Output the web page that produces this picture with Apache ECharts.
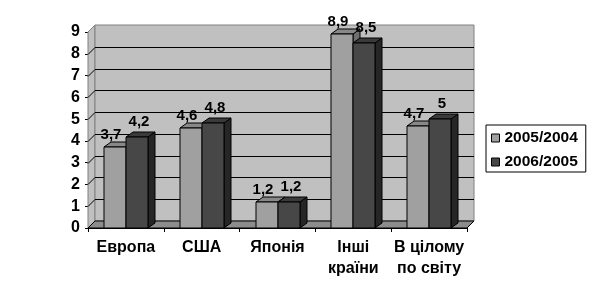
<!DOCTYPE html>
<html><head><meta charset="utf-8">
<script src="https://cdn.jsdelivr.net/npm/echarts@6/dist/echarts.min.js"></script>
<style>html,body{margin:0;padding:0;background:#fff}#c{width:593px;height:299px}</style>
</head><body><div id="c"></div>
<script>
const categories = ['Европа', 'США', 'Японія', 'Інші\nкраїни', 'В цілому\nпо світу'];
const seriesNames = ['2005/2004', '2006/2005'];
const values2005 = [3.7, 4.6, 1.2, 8.9, 4.7];
const values2006 = [4.2, 4.8, 1.2, 8.5, 5];
const yTicks = [0, 1, 2, 3, 4, 5, 6, 7, 8, 9];

const FONT = '"Liberation Sans", Arial, sans-serif';
const WALL_D = 7;
const BAR_DX = 7, BAR_DY = 5;
const styles = [
  { front: '#A0A0A0', top: '#888888', side: '#6E6E6E', lblDx: -4, lblDy: 5 },
  { front: '#474747', top: '#3A3A3A', side: '#262626', lblDx: 2, lblDy: 8 }
];
function fmt(v) { return String(v).replace('.', ','); }

function barRender(sIdx) {
  return function (params, api) {
    const idx = api.value(0), v = api.value(1);
    const base = api.coord([idx, 0]);
    const top = api.coord([idx, v]);
    const catW = api.size([1, 0])[0];
    const bw = Math.round(catW * 0.29);
    const cx = Math.round(base[0]);
    const x0 = sIdx === 0 ? cx - bw : cx;
    const x1 = x0 + bw;
    const yb = Math.round(base[1]), yt = Math.round(top[1]);
    const st = styles[sIdx];
    const sk = { stroke: '#000', lineWidth: 1 };
    return {
      type: 'group', children: [
        { type: 'polygon', shape: { points: [[x1, yb], [x1 + BAR_DX, yb - BAR_DY], [x1 + BAR_DX, yt - BAR_DY], [x1, yt]] }, style: Object.assign({ fill: st.side }, sk) },
        { type: 'polygon', shape: { points: [[x0, yt], [x0 + BAR_DX, yt - BAR_DY], [x1 + BAR_DX, yt - BAR_DY], [x1, yt]] }, style: Object.assign({ fill: st.top }, sk) },
        { type: 'rect', shape: { x: x0, y: yt, width: bw, height: yb - yt }, style: Object.assign({ fill: st.front }, sk) },
        { type: 'text', x: (x0 + x1) / 2 + st.lblDx, y: yt - st.lblDy, style: { text: fmt(v), font: 'bold 15px ' + FONT, fill: '#000', align: 'center', verticalAlign: 'bottom' } }
      ]
    };
  };
}

function wallRender(params, api) {
  const cs = params.coordSys;
  const L = cs.x, R = cs.x + cs.width, B = cs.y + cs.height, T = cs.y;
  const D = WALL_D;
  const ch = [];
  ch.push({ type: 'polygon', shape: { points: [[L, B], [L + D, B - D], [L + D, T - D], [L, T]] }, style: { fill: '#C0C0C0', stroke: '#808080', lineWidth: 1 } });
  ch.push({ type: 'rect', shape: { x: L + D, y: T - D, width: cs.width, height: cs.height }, style: { fill: '#C0C0C0', stroke: '#808080', lineWidth: 1 } });
  ch.push({ type: 'polygon', shape: { points: [[L, B], [R, B], [R + D, B - D], [L + D, B - D]] }, style: { fill: '#8C8C8C', stroke: '#000', lineWidth: 1 } });
  yTicks.forEach(function (t) {
    if (t === 0 || t === yTicks[yTicks.length - 1]) return;
    const y = Math.round(api.coord([0, t])[1]) + 0.5;
    ch.push({ type: 'polyline', shape: { points: [[L, y], [L + D, y - D], [R + D, y - D]] }, style: { stroke: '#000', lineWidth: 1, fill: null } });
  });
  return { type: 'group', children: ch };
}

const chart = echarts.init(document.getElementById('c'), null, { renderer: 'canvas' });
chart.setOption({
  animation: false,
  backgroundColor: '#fff',
  grid: { left: 88, right: 126, top: 32, bottom: 71, containLabel: false },
  legend: {
    orient: 'vertical', left: 486, top: 125, data: seriesNames,
    icon: 'rect', itemWidth: 8, itemHeight: 8, itemGap: 8,
    padding: [5, 8, 2, 5], borderColor: '#000', borderWidth: 1, backgroundColor: '#fff',
    textStyle: { fontFamily: FONT, fontWeight: 'bold', fontSize: 15.5, color: '#000', lineHeight: 16 },
    itemStyle: { borderColor: '#000', borderWidth: 1 }
  },
  xAxis: {
    type: 'category', data: categories, boundaryGap: true,
    axisLine: { show: true, lineStyle: { color: '#000', width: 1 } },
    axisTick: { show: true, length: 4, alignWithLabel: false, lineStyle: { color: '#000' } },
    axisLabel: { margin: 9, fontFamily: FONT, fontWeight: 'bold', fontSize: 16, color: '#000', lineHeight: 21, interval: 0 },
    splitLine: { show: false }
  },
  yAxis: {
    type: 'value', min: 0, max: 9, interval: 1,
    axisLine: { show: true, lineStyle: { color: '#000', width: 1 } },
    axisTick: { show: true, length: 3, lineStyle: { color: '#000' } },
    axisLabel: { margin: 8, fontFamily: FONT, fontWeight: 'bold', fontSize: 16, color: '#000' },
    splitLine: { show: false }
  },
  series: [
    { type: 'custom', name: 'walls', silent: true, z: 1, renderItem: wallRender, data: [[0, 0]], encode: { x: 0, y: 1 } },
    { type: 'custom', name: seriesNames[0], z: 2, renderItem: barRender(0), itemStyle: { color: styles[0].front }, data: values2005.map((v, i) => [i, v]), encode: { x: 0, y: 1 } },
    { type: 'custom', name: seriesNames[1], z: 3, renderItem: barRender(1), itemStyle: { color: styles[1].front }, data: values2006.map((v, i) => [i, v]), encode: { x: 0, y: 1 } }
  ]
});
</script>
</body></html>
